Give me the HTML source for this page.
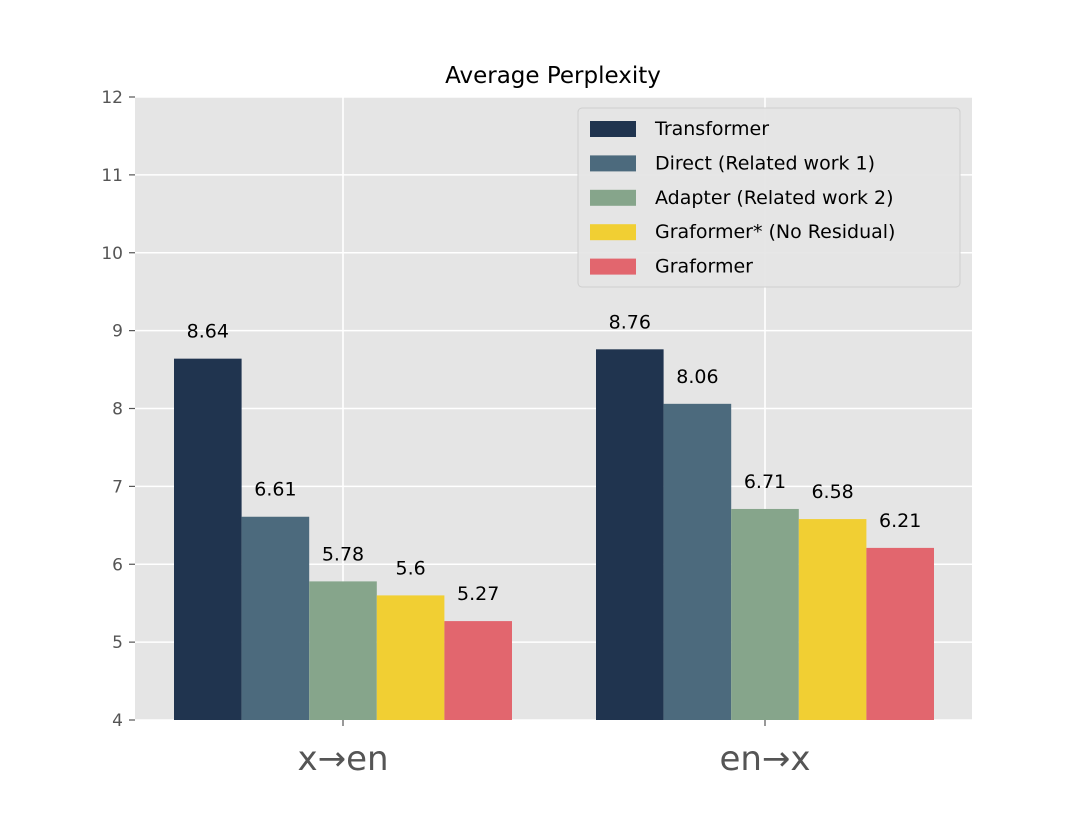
<!DOCTYPE html>
<html><head><meta charset="utf-8"><style>
html,body{margin:0;padding:0;background:#fff;}
svg text{font-family:"DejaVu Sans","Liberation Sans",sans-serif;}
</style></head><body>
<svg id="chart" width="1080" height="810" xmlns="http://www.w3.org/2000/svg">
<rect x="0" y="0" width="1080" height="810" fill="#ffffff"/>
<rect x="135" y="97" width="837" height="623" fill="#e5e5e5"/>
<g id="grid"></g>
<g id="bars"></g>
<g id="axes"></g>
<text x="553" y="83" text-anchor="middle" font-size="23" fill="#000">Average Perplexity</text>
<g id="legend">
<rect x="578" y="108" width="382" height="179" rx="4" fill="#e5e5e5" stroke="#cccccc" stroke-width="1" opacity="0.9"/>
</g>
</svg>
<script>
const categories = ["x→en", "en→x"];
const seriesNames = ["Transformer", "Direct (Related work 1)", "Adapter (Related work 2)", "Graformer* (No Residual)", "Graformer"];
const transformer = [8.64, 8.76];
const direct = [6.61, 8.06];
const adapter = [5.78, 6.71];
const graformerNoRes = [5.6, 6.58];
const graformer = [5.27, 6.21];
const yTicks = [4, 5, 6, 7, 8, 9, 10, 11, 12];
const valueLabels = [["8.64","8.76"],["6.61","8.06"],["5.78","6.71"],["5.6","6.58"],["5.27","6.21"]];
const series = [transformer, direct, adapter, graformerNoRes, graformer];
const colors = ["#20344f", "#4c6a7d", "#86a58b", "#f1cf33", "#e2666e"];

const NS = "http://www.w3.org/2000/svg";
const plotL = 135, plotR = 972, plotT = 97, plotB = 720;
const yMin = 4, yMax = 12;
function yScale(v){ return plotB - (v - yMin) / (yMax - yMin) * (plotB - plotT); }
const groupCenters = [343, 765];
function xCenter(i){ return groupCenters[0] + i * (groupCenters[1] - groupCenters[0]); }
const barW = 67.6;
function mk(tag, attrs, parent){ const e = document.createElementNS(NS, tag); for (const k in attrs) e.setAttribute(k, attrs[k]); parent.appendChild(e); return e; }

const grid = document.getElementById("grid");
const axes = document.getElementById("axes");
yTicks.forEach(t => {
  const y = yScale(t);
  const gl = mk("line", {x1: plotL, x2: plotR, y1: y, y2: y, stroke: "#ffffff", "stroke-width": 1.6}, grid);
  
  
  mk("line", {x1: plotL - 6, x2: plotL, y1: y, y2: y, stroke: "#555", "stroke-width": 1.2}, axes);
  const tl = mk("text", {x: plotL - 12, y: y + 6, "text-anchor": "end", "font-size": 17, fill: "#555"}, axes);
  tl.textContent = t;
  
  
});
categories.forEach((c, i) => {
  const x = xCenter(i);
  const gl = mk("line", {x1: x, x2: x, y1: plotT, y2: plotB, stroke: "#ffffff", "stroke-width": 1.6}, grid);
  
  
  mk("line", {x1: x, x2: x, y1: plotB, y2: plotB + 6, stroke: "#555", "stroke-width": 1.2}, axes);
  const tl = mk("text", {x: x, y: 770, "text-anchor": "middle", "font-size": 34, fill: "#555"}, axes);
  tl.textContent = c;
  
  
});

const bars = document.getElementById("bars");
series.forEach((s, si) => {
  s.forEach((v, ci) => {
    const x = xCenter(ci) + (si - 2.5) * barW;
    const y = yScale(v);
    const r = mk("rect", {x: x, y: y, width: barW, height: plotB - y, fill: colors[si]}, bars);
    
    
    const t = mk("text", {x: x + barW / 2, y: y - 21, "text-anchor": "middle", "font-size": 19, fill: "#000"}, bars);
    t.textContent = valueLabels[si][ci];
    
    
  });
});

const legend = document.getElementById("legend");
seriesNames.forEach((n, i) => {
  const y = 128 + i * 34.4;
  const sw = mk("rect", {x: 590, y: y - 7, width: 46, height: 16, fill: colors[i]}, legend);
  
  
  const t = mk("text", {x: 655, y: y + 7, "font-size": 19, fill: "#000"}, legend);
  t.textContent = n;
  
  
});
</script>
</body></html>
